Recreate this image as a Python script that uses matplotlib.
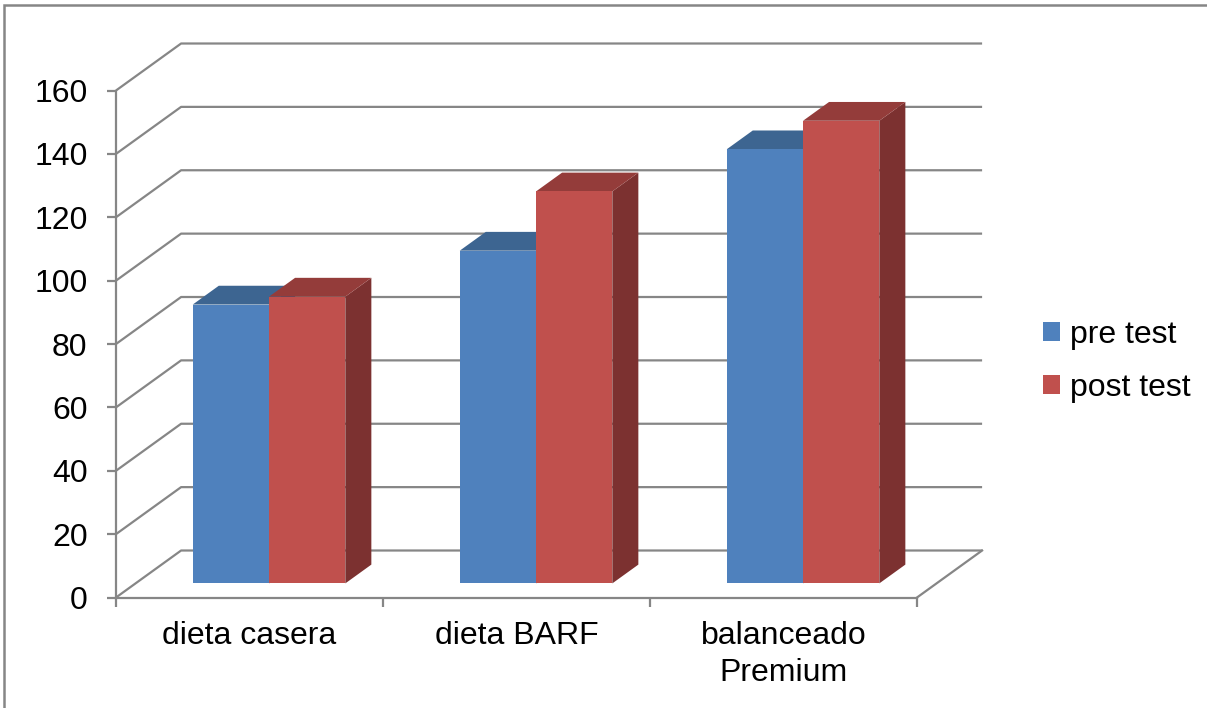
import matplotlib
matplotlib.use("Agg")
import matplotlib.pyplot as plt
from matplotlib.patches import Polygon, Patch, Rectangle
from matplotlib.transforms import offset_copy

plt.rcParams['font.family'] = ['Liberation Sans', 'DejaVu Sans']

categories = ["dieta casera", "dieta BARF", "balanceado\nPremium"]
series_names = ["pre test", "post test"]
pre_test = [88, 105, 137]
post_test = [90.5, 123.7, 146]
y_ticks = [0, 20, 40, 60, 80, 100, 120, 140, 160]

front_colors = ["#4F81BD", "#C0504D"]
top_colors = ["#3D6591", "#943C3A"]
side_colors = ["#345782", "#7C3130"]
grid_color = "#868686"

W, H, DPI = 1207, 708, 100
fig = plt.figure(figsize=(W / DPI, H / DPI), dpi=DPI)
fig.patch.set_facecolor("white")

# outer chart frame
fig.add_artist(Rectangle((4 / W, -0.05), 1.2, 1 - 5 / H + 0.05, transform=fig.transFigure,
                         fill=False, edgecolor=grid_color, lw=1.8))

ax = fig.add_axes([116 / W, 1 - 597.5 / H, 801 / W, 507 / H])
ax.set_xlim(0.5, 3.5)
ax.set_ylim(0, 160)
ax.set_facecolor("none")

# oblique depth of the 3-D box, in data units
DX, DY = 0.2438, 14.83
f0, f1 = 0.3, 0.7           # bars sit in the middle of the depth
bw = 1 / 3.5                # gap width 150 %

# walls: gridlines on the left wall and back wall, plus floor edge
for v in y_ticks:
    ax.plot([0.5, 0.5 + DX, 3.5 + DX], [v, v + DY, v + DY], color=grid_color,
            lw=1.6, clip_on=False, zorder=1, solid_capstyle='butt')
ax.plot([3.5, 3.5 + DX], [0, DY], color=grid_color, lw=1.6, clip_on=False, zorder=1)

# bars
ox, oy = f0 * DX, f0 * DY
ddx, ddy = (f1 - f0) * DX, (f1 - f0) * DY
for s, vals in enumerate([pre_test, post_test]):
    for i, v in enumerate(vals):
        x0 = (i + 1) - bw + s * bw + ox
        x1 = x0 + bw
        b, t = oy, oy + v
        z = 3 + 2 * s
        ax.add_patch(Polygon([(x1, b), (x1 + ddx, b + ddy), (x1 + ddx, t + ddy), (x1, t)],
                             closed=True, facecolor=side_colors[s], edgecolor="none",
                             clip_on=False, zorder=z))
        ax.add_patch(Polygon([(x0, t), (x1, t), (x1 + ddx, t + ddy), (x0 + ddx, t + ddy)],
                             closed=True, facecolor=top_colors[s], edgecolor="none",
                             clip_on=False, zorder=z))
    ax.bar([(i + 1) - bw + s * bw + ox for i in range(3)], vals, width=bw, bottom=oy,
           align='edge', color=front_colors[s], edgecolor="none", zorder=4 + 2 * s,
           clip_on=False)

# axes lines and ticks
for sp in ["top", "right"]:
    ax.spines[sp].set_visible(False)
for sp in ["left", "bottom"]:
    ax.spines[sp].set_color(grid_color)
    ax.spines[sp].set_linewidth(1.6)
    ax.spines[sp].set_zorder(2)

ax.set_yticks(y_ticks)
ax.set_yticklabels([str(v) for v in y_ticks])
ax.tick_params(axis='y', direction='out', length=6.5, width=1.6, color=grid_color,
               labelsize=23, pad=14, labelcolor='black')
ax.set_xticks([0.5, 1.5, 2.5, 3.5])
ax.set_xticklabels([])
ax.tick_params(axis='x', direction='out', length=6.5, width=1.6, color=grid_color)

label_tr = offset_copy(ax.transData, fig=fig, x=0, y=-17, units='points')
for i, c in enumerate(categories):
    ax.text(i + 1, 0, c, transform=label_tr, ha='center', va='top', fontsize=23,
            linespacing=1.3)

handles = [Patch(facecolor=front_colors[s], edgecolor='none') for s in range(2)]
fig.legend(handles, series_names, loc='center left', bbox_to_anchor=(1043 / W, 1 - 361 / H),
           frameon=False, fontsize=23, handlelength=0.53, handleheight=0.53,
           handletextpad=0.3, labelspacing=0.72, borderpad=0, borderaxespad=0)

fig.savefig("out.png", dpi=DPI, facecolor="white")
